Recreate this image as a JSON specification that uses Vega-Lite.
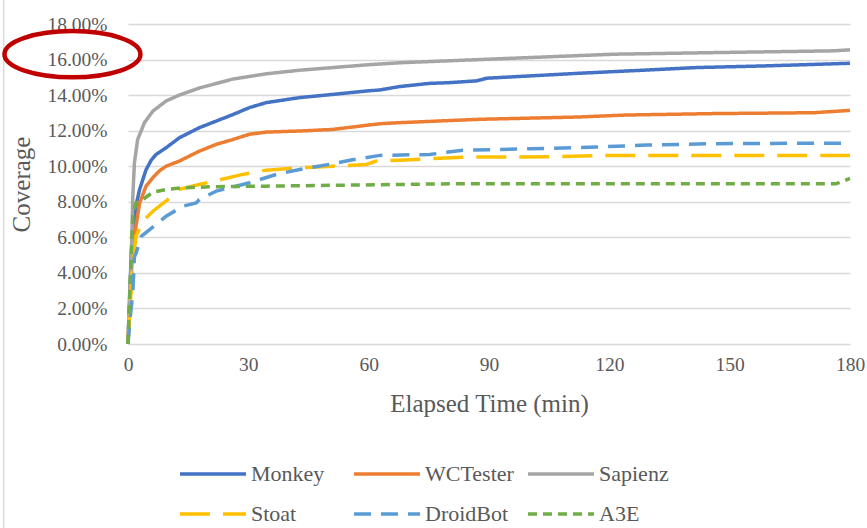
{
  "$schema": "https://vega.github.io/schema/vega-lite/v6.json",
  "width": 722,
  "height": 320,
  "autosize": {"type": "none"},
  "padding": {"left": 128, "top": 24, "right": 17, "bottom": 184},
  "background": "white",
  "config": {
    "font": "Liberation Serif",
    "view": {"stroke": null},
    "axis": {"labelFont": "Liberation Serif", "titleFont": "Liberation Serif"},
    "legend": {"labelFont": "Liberation Serif", "titleFont": "Liberation Serif"}
  },
  "datasets": {
    "series": [
      {"tool": "Monkey", "t": 0, "coverage": 0},
      {"tool": "Monkey", "t": 0.4, "coverage": 0.025},
      {"tool": "Monkey", "t": 0.8, "coverage": 0.05},
      {"tool": "Monkey", "t": 1.2, "coverage": 0.064},
      {"tool": "Monkey", "t": 2, "coverage": 0.078},
      {"tool": "Monkey", "t": 2.9, "coverage": 0.087},
      {"tool": "Monkey", "t": 4.5, "coverage": 0.098},
      {"tool": "Monkey", "t": 5.8, "coverage": 0.1035},
      {"tool": "Monkey", "t": 7, "coverage": 0.1066},
      {"tool": "Monkey", "t": 9.5, "coverage": 0.1104},
      {"tool": "Monkey", "t": 12.8, "coverage": 0.116},
      {"tool": "Monkey", "t": 17.8, "coverage": 0.1217},
      {"tool": "Monkey", "t": 22, "coverage": 0.1254},
      {"tool": "Monkey", "t": 26.1, "coverage": 0.129},
      {"tool": "Monkey", "t": 30.3, "coverage": 0.133},
      {"tool": "Monkey", "t": 34.5, "coverage": 0.1358},
      {"tool": "Monkey", "t": 42.8, "coverage": 0.1386},
      {"tool": "Monkey", "t": 51.1, "coverage": 0.1404},
      {"tool": "Monkey", "t": 59.4, "coverage": 0.1423},
      {"tool": "Monkey", "t": 62.8, "coverage": 0.1429},
      {"tool": "Monkey", "t": 67.7, "coverage": 0.1448},
      {"tool": "Monkey", "t": 71, "coverage": 0.1456},
      {"tool": "Monkey", "t": 75.2, "coverage": 0.1466},
      {"tool": "Monkey", "t": 80, "coverage": 0.147},
      {"tool": "Monkey", "t": 86.9, "coverage": 0.148},
      {"tool": "Monkey", "t": 89.4, "coverage": 0.1495},
      {"tool": "Monkey", "t": 100.2, "coverage": 0.1508},
      {"tool": "Monkey", "t": 112.6, "coverage": 0.1523},
      {"tool": "Monkey", "t": 129.3, "coverage": 0.1541},
      {"tool": "Monkey", "t": 141.8, "coverage": 0.1555},
      {"tool": "Monkey", "t": 158.4, "coverage": 0.1564},
      {"tool": "Monkey", "t": 170, "coverage": 0.1572},
      {"tool": "Monkey", "t": 180, "coverage": 0.1579},
      {"tool": "WCTester", "t": 0, "coverage": 0},
      {"tool": "WCTester", "t": 0.4, "coverage": 0.02},
      {"tool": "WCTester", "t": 0.8, "coverage": 0.04},
      {"tool": "WCTester", "t": 1.6, "coverage": 0.0606},
      {"tool": "WCTester", "t": 2.9, "coverage": 0.0794},
      {"tool": "WCTester", "t": 4.5, "coverage": 0.0888},
      {"tool": "WCTester", "t": 6.2, "coverage": 0.0936},
      {"tool": "WCTester", "t": 7.9, "coverage": 0.0975},
      {"tool": "WCTester", "t": 9.5, "coverage": 0.1},
      {"tool": "WCTester", "t": 12.8, "coverage": 0.1029},
      {"tool": "WCTester", "t": 17.8, "coverage": 0.1085},
      {"tool": "WCTester", "t": 22, "coverage": 0.1123},
      {"tool": "WCTester", "t": 26.1, "coverage": 0.115},
      {"tool": "WCTester", "t": 30.3, "coverage": 0.118},
      {"tool": "WCTester", "t": 34.5, "coverage": 0.1192},
      {"tool": "WCTester", "t": 42.8, "coverage": 0.1198},
      {"tool": "WCTester", "t": 51.1, "coverage": 0.1207},
      {"tool": "WCTester", "t": 59.4, "coverage": 0.123},
      {"tool": "WCTester", "t": 62.8, "coverage": 0.1239},
      {"tool": "WCTester", "t": 67.7, "coverage": 0.1245},
      {"tool": "WCTester", "t": 87.7, "coverage": 0.1264},
      {"tool": "WCTester", "t": 112.6, "coverage": 0.1277},
      {"tool": "WCTester", "t": 124.3, "coverage": 0.1288},
      {"tool": "WCTester", "t": 146, "coverage": 0.1296},
      {"tool": "WCTester", "t": 171, "coverage": 0.1301},
      {"tool": "WCTester", "t": 180, "coverage": 0.1314},
      {"tool": "Sapienz", "t": 0, "coverage": 0},
      {"tool": "Sapienz", "t": 0.4, "coverage": 0.025},
      {"tool": "Sapienz", "t": 0.8, "coverage": 0.0456},
      {"tool": "Sapienz", "t": 1.2, "coverage": 0.083},
      {"tool": "Sapienz", "t": 1.6, "coverage": 0.102},
      {"tool": "Sapienz", "t": 2.4, "coverage": 0.115},
      {"tool": "Sapienz", "t": 4.1, "coverage": 0.1245},
      {"tool": "Sapienz", "t": 6.2, "coverage": 0.131},
      {"tool": "Sapienz", "t": 9.5, "coverage": 0.1367},
      {"tool": "Sapienz", "t": 12.8, "coverage": 0.14},
      {"tool": "Sapienz", "t": 17.8, "coverage": 0.144},
      {"tool": "Sapienz", "t": 26.1, "coverage": 0.149},
      {"tool": "Sapienz", "t": 34.5, "coverage": 0.152},
      {"tool": "Sapienz", "t": 42.8, "coverage": 0.154},
      {"tool": "Sapienz", "t": 51.1, "coverage": 0.1555},
      {"tool": "Sapienz", "t": 59.4, "coverage": 0.157},
      {"tool": "Sapienz", "t": 67.7, "coverage": 0.1582},
      {"tool": "Sapienz", "t": 87.7, "coverage": 0.16},
      {"tool": "Sapienz", "t": 121, "coverage": 0.163},
      {"tool": "Sapienz", "t": 146, "coverage": 0.1639},
      {"tool": "Sapienz", "t": 175.8, "coverage": 0.1649},
      {"tool": "Sapienz", "t": 180, "coverage": 0.1655},
      {"tool": "Stoat", "t": 0, "coverage": 0},
      {"tool": "Stoat", "t": 0.4, "coverage": 0.018},
      {"tool": "Stoat", "t": 0.8, "coverage": 0.03},
      {"tool": "Stoat", "t": 1.2, "coverage": 0.0456},
      {"tool": "Stoat", "t": 2, "coverage": 0.0606},
      {"tool": "Stoat", "t": 3.7, "coverage": 0.069},
      {"tool": "Stoat", "t": 6.2, "coverage": 0.0747},
      {"tool": "Stoat", "t": 10, "coverage": 0.0813},
      {"tool": "Stoat", "t": 12.8, "coverage": 0.087},
      {"tool": "Stoat", "t": 17.8, "coverage": 0.0897},
      {"tool": "Stoat", "t": 28.6, "coverage": 0.0954},
      {"tool": "Stoat", "t": 34.5, "coverage": 0.0978},
      {"tool": "Stoat", "t": 42.8, "coverage": 0.0992},
      {"tool": "Stoat", "t": 51.1, "coverage": 0.1},
      {"tool": "Stoat", "t": 59.4, "coverage": 0.101},
      {"tool": "Stoat", "t": 61.9, "coverage": 0.1029},
      {"tool": "Stoat", "t": 67.7, "coverage": 0.1034},
      {"tool": "Stoat", "t": 83.5, "coverage": 0.1051},
      {"tool": "Stoat", "t": 104, "coverage": 0.1053},
      {"tool": "Stoat", "t": 120, "coverage": 0.1061},
      {"tool": "Stoat", "t": 180, "coverage": 0.1061},
      {"tool": "DroidBot", "t": 0, "coverage": 0},
      {"tool": "DroidBot", "t": 0.4, "coverage": 0.012},
      {"tool": "DroidBot", "t": 1.2, "coverage": 0.0287},
      {"tool": "DroidBot", "t": 1.6, "coverage": 0.049},
      {"tool": "DroidBot", "t": 2, "coverage": 0.051},
      {"tool": "DroidBot", "t": 3.3, "coverage": 0.0606},
      {"tool": "DroidBot", "t": 5.4, "coverage": 0.0644},
      {"tool": "DroidBot", "t": 9.5, "coverage": 0.0719},
      {"tool": "DroidBot", "t": 13.7, "coverage": 0.0775},
      {"tool": "DroidBot", "t": 17, "coverage": 0.0794},
      {"tool": "DroidBot", "t": 17.8, "coverage": 0.0813},
      {"tool": "DroidBot", "t": 22, "coverage": 0.086},
      {"tool": "DroidBot", "t": 30.3, "coverage": 0.0907},
      {"tool": "DroidBot", "t": 37, "coverage": 0.0954},
      {"tool": "DroidBot", "t": 42.8, "coverage": 0.0982},
      {"tool": "DroidBot", "t": 51.1, "coverage": 0.1014},
      {"tool": "DroidBot", "t": 55.3, "coverage": 0.1034},
      {"tool": "DroidBot", "t": 62.8, "coverage": 0.1061},
      {"tool": "DroidBot", "t": 75.2, "coverage": 0.1066},
      {"tool": "DroidBot", "t": 83.5, "coverage": 0.109},
      {"tool": "DroidBot", "t": 100.2, "coverage": 0.1098},
      {"tool": "DroidBot", "t": 116.8, "coverage": 0.1108},
      {"tool": "DroidBot", "t": 129.3, "coverage": 0.1119},
      {"tool": "DroidBot", "t": 146, "coverage": 0.1127},
      {"tool": "DroidBot", "t": 180, "coverage": 0.113},
      {"tool": "A3E", "t": 0, "coverage": 0},
      {"tool": "A3E", "t": 0.4, "coverage": 0.027},
      {"tool": "A3E", "t": 0.8, "coverage": 0.05},
      {"tool": "A3E", "t": 1.2, "coverage": 0.0719},
      {"tool": "A3E", "t": 2, "coverage": 0.0794},
      {"tool": "A3E", "t": 3.7, "coverage": 0.0813},
      {"tool": "A3E", "t": 6.2, "coverage": 0.0854},
      {"tool": "A3E", "t": 9.5, "coverage": 0.0869},
      {"tool": "A3E", "t": 13.7, "coverage": 0.0879},
      {"tool": "A3E", "t": 22, "coverage": 0.0885},
      {"tool": "A3E", "t": 34.5, "coverage": 0.0888},
      {"tool": "A3E", "t": 62.8, "coverage": 0.0896},
      {"tool": "A3E", "t": 80, "coverage": 0.0901},
      {"tool": "A3E", "t": 176.5, "coverage": 0.0901},
      {"tool": "A3E", "t": 180, "coverage": 0.0931}
    ],
    "border": [{"t": -31, "coverage": 0.195, "coverage2": -0.11}],
    "highlight": [{"t": -13.85, "coverage": 0.163}]
  },
  "encoding": {
    "x": {
      "field": "t",
      "type": "quantitative",
      "scale": {"domain": [0, 180], "nice": false, "zero": false},
      "axis": {
        "values": [0, 30, 60, 90, 120, 150, 180],
        "title": "Elapsed Time (min)",
        "titleFont": "Liberation Serif",
        "titleFontSize": 25,
        "titleFontWeight": "normal",
        "titleColor": "#595959",
        "titlePadding": 18,
        "labelFont": "Liberation Serif",
        "labelFontSize": 19.5,
        "labelColor": "#595959",
        "labelPadding": 11,
        "labelFlush": false,
        "labelOverlap": false,
        "ticks": false,
        "domain": false,
        "grid": false
      }
    },
    "y": {
      "field": "coverage",
      "type": "quantitative",
      "scale": {"domain": [0, 0.18], "nice": false},
      "axis": {
        "values": [0, 0.02, 0.04, 0.06, 0.08, 0.1, 0.12, 0.14, 0.16, 0.18],
        "format": ".2%",
        "title": "Coverage",
        "titleFont": "Liberation Serif",
        "titleFontSize": 25,
        "titleFontWeight": "normal",
        "titleColor": "#595959",
        "titlePadding": 12,
        "labelFont": "Liberation Serif",
        "labelFontSize": 19.5,
        "labelColor": "#595959",
        "labelPadding": 21,
        "labelOverlap": false,
        "ticks": false,
        "domain": false,
        "grid": true,
        "gridColor": "#d9d9d9",
        "gridWidth": 1.5
      }
    }
  },
  "layer": [
    {
      "data": {"name": "border"},
      "mark": {"type": "rule", "color": "#d9d9d9", "strokeWidth": 1.5},
      "encoding": {"y2": {"field": "coverage2"}}
    },
    {
      "data": {"name": "series"},
      "mark": {"type": "line", "strokeWidth": 3.5},
      "encoding": {
        "color": {
          "field": "tool",
          "type": "nominal",
          "scale": {
            "domain": ["Monkey", "WCTester", "Sapienz", "Stoat", "DroidBot", "A3E"],
            "range": ["#4472C4", "#ED7D31", "#A5A5A5", "#FFC000", "#5B9BD5", "#70AD47"]
          },
          "legend": {
            "orient": "none",
            "legendX": 72,
            "legendY": 437,
            "direction": "horizontal",
            "columns": 3,
            "title": null,
            "padding": 0,
            "symbolType": "M -3 0 L 3 0",
            "symbolSize": 484,
            "symbolStrokeWidth": 3.5,
            "labelFont": "Liberation Serif",
            "labelFontSize": 22,
            "labelColor": "#595959",
            "labelOffset": 25,
            "columnPadding": 7,
            "rowPadding": 16,
            "gridAlign": "all",
            "labelLimit": 200
          }
        },
        "strokeDash": {
          "field": "tool",
          "type": "nominal",
          "scale": {
            "domain": ["Monkey", "WCTester", "Sapienz", "Stoat", "DroidBot", "A3E"],
            "range": [[1, 0], [1, 0], [1, 0], [30, 13], [17, 10], [9, 6]]
          },
          "legend": {
            "orient": "none",
            "legendX": 72,
            "legendY": 437,
            "direction": "horizontal",
            "columns": 3,
            "title": null,
            "padding": 0,
            "symbolType": "M -3 0 L 3 0",
            "symbolSize": 484,
            "symbolStrokeWidth": 3.5,
            "labelFont": "Liberation Serif",
            "labelFontSize": 22,
            "labelColor": "#595959",
            "labelOffset": 25,
            "columnPadding": 7,
            "rowPadding": 16,
            "gridAlign": "all",
            "labelLimit": 200
          }
        }
      }
    },
    {
      "data": {"name": "highlight"},
      "mark": {
        "type": "point",
        "shape": "M 1 0 C 1 0.188 0.552 0.34 0 0.34 C -0.552 0.34 -1 0.188 -1 0 C -1 -0.188 -0.552 -0.34 0 -0.34 C 0.552 -0.34 1 -0.188 1 0 Z",
        "size": 18496,
        "filled": false,
        "color": "#C00000",
        "strokeWidth": 4.5,
        "opacity": 1
      }
    }
  ]
}
